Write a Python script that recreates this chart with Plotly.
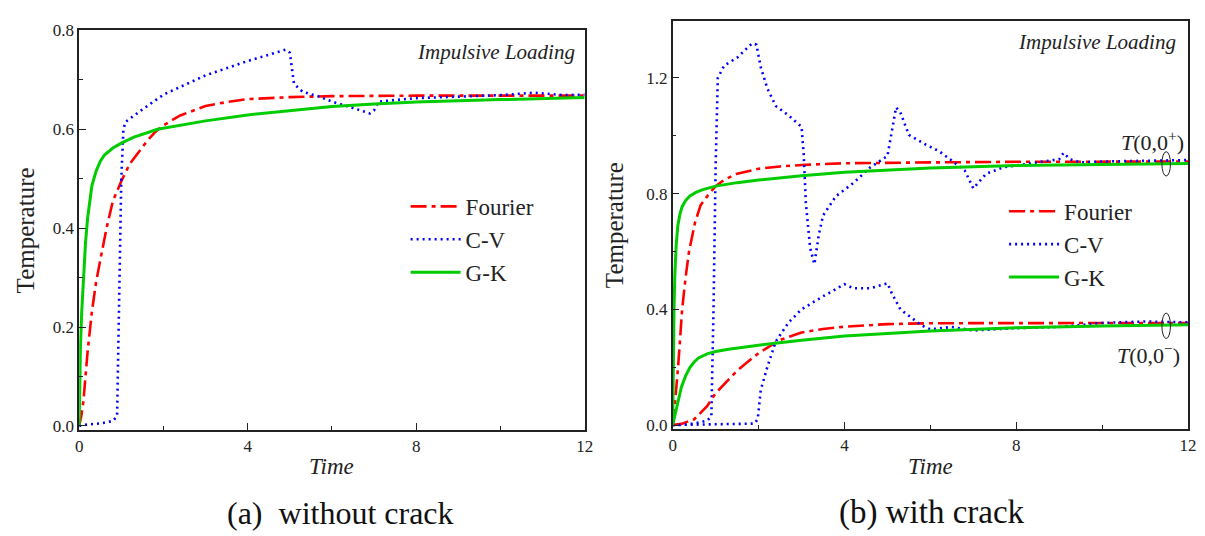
import plotly.graph_objects as go

# ---------------- data: (a) without crack ----------------
a_four_t = [0, 0.05, 0.1, 0.2, 0.3, 0.4, 0.5, 0.65, 0.8, 1.0, 1.2, 1.4, 1.6, 1.8, 2.0, 2.4, 3.0, 3.5, 4.0, 5.0, 6.0, 8.0, 10.0, 12.0]
a_four_v = [0, 0.02, 0.05, 0.15, 0.23, 0.29, 0.335, 0.40, 0.455, 0.495, 0.53, 0.553, 0.575, 0.594, 0.608, 0.628, 0.647, 0.655, 0.661, 0.665, 0.667, 0.668, 0.668, 0.668]

a_gk_t = [0, 0.01, 0.03, 0.06, 0.1, 0.15, 0.2, 0.3, 0.4, 0.5, 0.6, 0.8, 1.0, 1.3, 1.86, 2.5, 3.0, 4.0, 5.0, 6.0, 7.0, 8.0, 10.0, 12.0]
a_gk_v = [0, 0.08, 0.16, 0.23, 0.3, 0.37, 0.42, 0.485, 0.515, 0.535, 0.548, 0.562, 0.572, 0.584, 0.6, 0.61, 0.617, 0.629, 0.638, 0.646, 0.651, 0.655, 0.66, 0.664]

a_cv_t = [0, 0.2, 0.5, 0.8, 0.9, 0.95, 1.0, 1.05, 1.1, 1.5, 2.0, 3.0, 4.0, 4.9, 5.0, 5.1, 5.3, 5.7, 6.0, 6.5, 6.9, 7.0, 7.1, 8.0, 9.0, 10.0, 10.8, 11.5, 12.0]
a_cv_v = [0, 0.003, 0.005, 0.01, 0.02, 0.25, 0.5, 0.6, 0.615, 0.64, 0.67, 0.709, 0.738, 0.761, 0.755, 0.692, 0.676, 0.666, 0.656, 0.643, 0.632, 0.638, 0.656, 0.663, 0.666, 0.669, 0.674, 0.669, 0.670]

# ---------------- data: (b) with crack ----------------
b_four_up_t = [0, 0.05, 0.13, 0.22, 0.3, 0.38, 0.52, 0.65, 0.85, 1.0, 1.2, 1.5, 2.0, 2.5, 3.0, 4.0, 6.0, 8.0, 12.0]
b_four_up_v = [0, 0.07, 0.21, 0.4, 0.51, 0.6, 0.7, 0.76, 0.8, 0.826, 0.848, 0.869, 0.886, 0.894, 0.899, 0.905, 0.908, 0.91, 0.911]

b_gk_up_t = [0, 0.01, 0.03, 0.05, 0.08, 0.12, 0.17, 0.22, 0.3, 0.4, 0.55, 0.7, 0.85, 1.0, 1.5, 2.0, 3.0, 4.0, 6.0, 8.0, 10.0, 12.0]
b_gk_up_v = [0, 0.2, 0.4, 0.52, 0.62, 0.69, 0.73, 0.755, 0.776, 0.792, 0.805, 0.814, 0.82, 0.826, 0.838, 0.847, 0.862, 0.874, 0.889, 0.897, 0.901, 0.904]

b_cv_up_t = [0, 0.5, 0.8, 0.9, 0.95, 1.0, 1.05, 1.2, 1.5, 1.85, 1.95, 2.05, 2.2, 2.4, 2.7, 3.0, 3.05, 3.1, 3.2, 3.3, 3.4, 3.5, 3.8, 4.2, 4.6, 5.0, 5.1, 5.2, 5.3, 5.5, 5.9, 6.2, 6.5, 6.8, 7.0, 7.3, 7.7, 8.5, 9.0, 9.1, 9.25, 9.5, 10.0, 12.0]
b_cv_up_v = [0, 0.005, 0.015, 0.03, 0.4, 0.9, 1.2, 1.243, 1.27, 1.32, 1.315, 1.237, 1.165, 1.103, 1.07, 1.031, 0.936, 0.768, 0.612, 0.556, 0.657, 0.724, 0.791, 0.836, 0.891, 0.93, 1.014, 1.098, 1.081, 1.003, 0.969, 0.947, 0.914, 0.88, 0.818, 0.869, 0.891, 0.908, 0.919, 0.941, 0.919, 0.908, 0.911, 0.916]

b_four_lo_t = [0, 0.2, 0.5, 0.8, 1.0, 1.5, 2.0, 2.5, 3.0, 3.5, 4.0, 5.0, 6.0, 8.0, 12.0]
b_four_lo_v = [0, 0.004, 0.02, 0.065, 0.11, 0.188, 0.249, 0.294, 0.32, 0.332, 0.34, 0.349, 0.352, 0.353, 0.353]

b_gk_lo_t = [0, 0.05, 0.1, 0.15, 0.2, 0.3, 0.4, 0.5, 0.6, 0.8, 1.0, 1.3, 1.6, 2.0, 3.0, 4.0, 6.0, 8.0, 10.0, 12.0]
b_gk_lo_v = [0, 0.035, 0.07, 0.1, 0.13, 0.17, 0.199, 0.218, 0.232, 0.246, 0.254, 0.262, 0.268, 0.276, 0.293, 0.308, 0.325, 0.336, 0.342, 0.347]

b_cv_lo_t = [0, 1.0, 1.9, 1.98, 2.05, 2.2, 2.4, 2.7, 3.0, 3.5, 4.0, 4.2, 4.6, 5.0, 5.1, 5.3, 5.6, 5.8, 6.0, 6.5, 7.0, 8.0, 9.0, 10.0, 11.0, 12.0]
b_cv_lo_v = [0, 0.003, 0.005, 0.02, 0.121, 0.199, 0.289, 0.355, 0.4, 0.445, 0.487, 0.473, 0.473, 0.49, 0.456, 0.4, 0.367, 0.344, 0.331, 0.339, 0.327, 0.335, 0.339, 0.353, 0.358, 0.355]

series_names = ["Fourier", "C-V", "G-K"]
x_ticks = [0, 4, 8, 12]

RED = "#FF0000"
BLUE = "#0000FF"
GREEN = "#00CC00"
FONT = "Liberation Serif, Times New Roman, serif"
INK = "#222222"

st_four = dict(color=RED, width=2.6, dash="16px,5px,4px,5px")
st_cv = dict(color=BLUE, width=2.6, dash="2px,4px")
st_gk = dict(color=GREEN, width=3)

fig = go.Figure()

# panel (a)
fig.add_trace(go.Scatter(x=a_four_t, y=a_four_v, mode="lines", line=st_four, name=series_names[0],
                         xaxis="x", yaxis="y", legend="legend"))
fig.add_trace(go.Scatter(x=a_cv_t, y=a_cv_v, mode="lines", line=st_cv, name=series_names[1],
                         xaxis="x", yaxis="y", legend="legend"))
fig.add_trace(go.Scatter(x=a_gk_t, y=a_gk_v, mode="lines", line=st_gk, name=series_names[2],
                         xaxis="x", yaxis="y", legend="legend"))

# panel (b)
fig.add_trace(go.Scatter(x=b_four_up_t, y=b_four_up_v, mode="lines", line=st_four, name=series_names[0],
                         xaxis="x2", yaxis="y2", legend="legend2", legendgroup="f"))
fig.add_trace(go.Scatter(x=b_cv_up_t, y=b_cv_up_v, mode="lines", line=st_cv, name=series_names[1],
                         xaxis="x2", yaxis="y2", legend="legend2", legendgroup="c"))
fig.add_trace(go.Scatter(x=b_gk_up_t, y=b_gk_up_v, mode="lines", line=st_gk, name=series_names[2],
                         xaxis="x2", yaxis="y2", legend="legend2", legendgroup="g"))
fig.add_trace(go.Scatter(x=b_four_lo_t, y=b_four_lo_v, mode="lines", line=st_four, name=series_names[0],
                         xaxis="x2", yaxis="y2", showlegend=False, legendgroup="f"))
fig.add_trace(go.Scatter(x=b_cv_lo_t, y=b_cv_lo_v, mode="lines", line=st_cv, name=series_names[1],
                         xaxis="x2", yaxis="y2", showlegend=False, legendgroup="c"))
fig.add_trace(go.Scatter(x=b_gk_lo_t, y=b_gk_lo_v, mode="lines", line=st_gk, name=series_names[2],
                         xaxis="x2", yaxis="y2", showlegend=False, legendgroup="g"))

W, H = 1205, 536

axis_common = dict(
    showgrid=False, zeroline=False, showline=True, linecolor=INK, linewidth=1.5,
    mirror=True, ticks="inside", ticklen=7, tickwidth=1.3, tickcolor=INK,
    tickfont=dict(family=FONT, size=17, color=INK),
)
minor_common = dict(ticks="inside", ticklen=4, tickwidth=1.2, tickcolor=INK, showgrid=False)

legend_common = dict(xanchor="left", yanchor="top", bgcolor="rgba(0,0,0,0)",
                     font=dict(family=FONT, size=23, color=INK), itemwidth=50, tracegroupgap=0)

fig.update_layout(
    width=W, height=H,
    margin=dict(l=0, r=0, t=0, b=0),
    paper_bgcolor="white", plot_bgcolor="white",
    font=dict(family=FONT, color=INK),
    xaxis=dict(domain=[76 / W, 587 / W], range=[0, 12], tickvals=x_ticks, anchor="y",
               minor=dict(minor_common, dtick=2), **axis_common),
    yaxis=dict(domain=[1 - 433 / H, 1 - 22 / H], range=[-0.008, 0.8], dtick=0.2, tickformat=".1f",
               anchor="x", minor=dict(minor_common, dtick=0.1), **axis_common),
    xaxis2=dict(domain=[676 / W, 1197 / W], range=[0, 12], tickvals=x_ticks, anchor="y2",
                minor=dict(minor_common, dtick=2), **axis_common),
    yaxis2=dict(domain=[1 - 432 / H, 1 - 12 / H], range=[-0.0134, 1.398], dtick=0.4, tickformat=".1f",
                anchor="x2", minor=dict(minor_common, dtick=0.2), **axis_common),
    legend=dict(x=406 / W, y=1 - 181 / H, **legend_common),
    legend2=dict(x=1011 / W, y=1 - 186 / H, **legend_common),
    showlegend=True,
)


def note(text, x, y, size, xanchor="center", angle=0, color=INK):
    return dict(text=text, x=x / W, y=1 - y / H, xref="paper", yref="paper", xanchor=xanchor,
                yanchor="middle", textangle=angle, showarrow=False,
                font=dict(family=FONT, size=size, color=color))


ann = [
    note("Temperature", 22, 228, 25, angle=-90),
    note("Temperature", 617, 222, 25, angle=-90),
    note("<i>Time</i>", 331, 471, 23),
    note("<i>Time</i>", 937, 471, 23),
    note("(a)  without crack", 340, 518, 32, color="#111111"),
    note("(b) with crack", 938, 518, 33, color="#111111"),
    note("<i>Impulsive Loading</i>", 579, 44, 21, xanchor="right"),
    note("<i>Impulsive Loading</i>", 1187, 34, 21, xanchor="right"),
    note("<i>T</i>(0,0<sup>+</sup>)", 1195, 136, 22, xanchor="right"),
    note("<i>T</i>(0,0<sup>−</sup>)", 1191, 355, 22, xanchor="right"),
]
fig.update_layout(annotations=ann)

# ellipses marking curve groups
fig.add_shape(type="circle", xref="x2", yref="y2", x0=11.39, x1=11.59, y0=0.861, y1=0.945,
              line=dict(color=INK, width=1))
fig.add_shape(type="circle", xref="x2", yref="y2", x0=11.39, x1=11.59, y0=0.299, y1=0.387,
              line=dict(color=INK, width=1))

fig.write_html("out.html")
